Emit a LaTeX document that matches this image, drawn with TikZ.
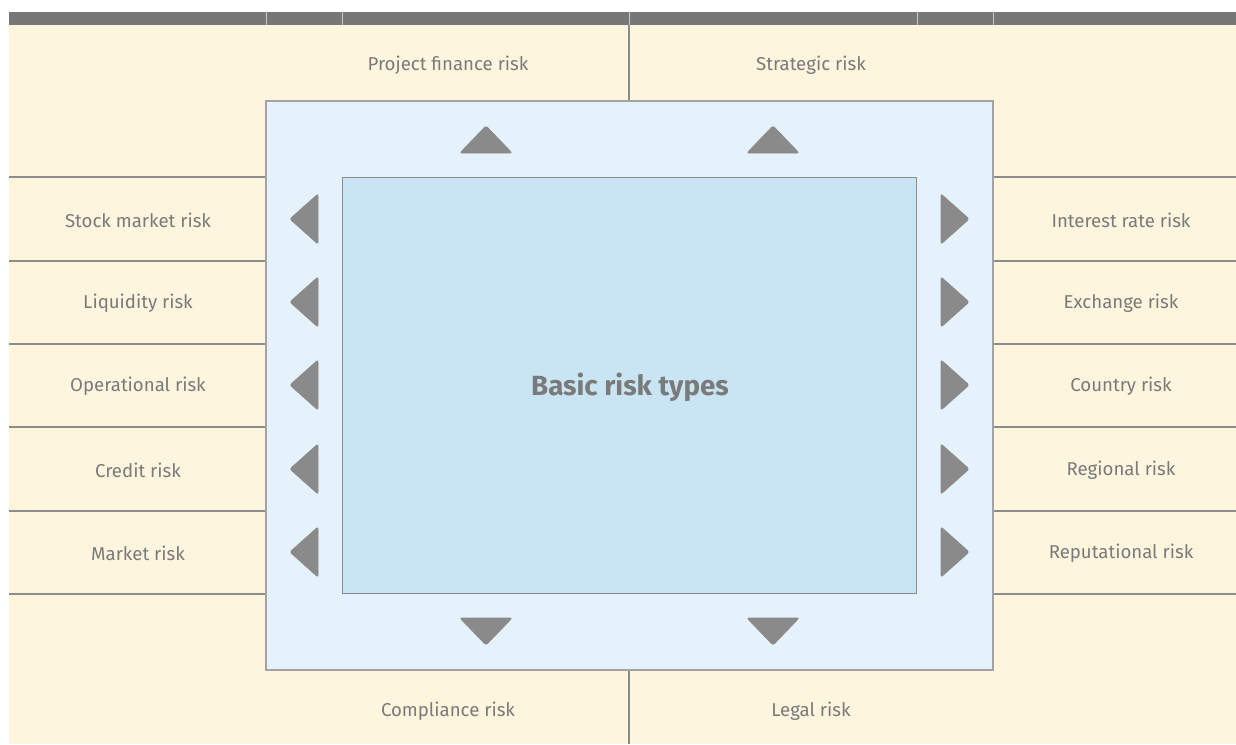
\documentclass[tikz,border=0pt]{standalone}
\usepackage{fontspec}
\setmainfont{Fira Sans}
\usetikzlibrary{shapes,arrows}
\definecolor{cream}{HTML}{FEF5DF}
\definecolor{paleblue}{HTML}{E5F2FB}
\definecolor{midblue}{HTML}{C9E4F2}
\definecolor{textgray}{HTML}{7A7A7A}
\definecolor{bargray}{HTML}{777777}
\definecolor{arrowgray}{HTML}{8A8A8A}
\definecolor{linegray}{HTML}{8C8C8C}
\tikzstyle{label} = [text=textgray, font=\fontsize{10.6}{12}\selectfont, inner sep=0pt]
\tikzstyle{title} = [text=textgray, font=\fontsize{15.8}{18}\selectfont\bfseries, inner sep=0pt]
\tikzstyle{sep} = [draw=linegray, line width=0.6pt]
\tikzstyle{tri} = [fill=arrowgray, draw=arrowgray, line width=0.5pt, rounded corners=1.2pt]

\begin{document}
\begin{tikzpicture}[x=0.02cm, y=-0.02cm]
\useasboundingbox (0,0) rectangle (1236,744);

% background and header bar
\fill[cream] (9,25) rectangle (1236,744);
\fill[bargray] (9,12) rectangle (1236,25);
\foreach \sx in {266,342,629,917,993}
  \draw[white!60!bargray, line width=0.5pt] (\sx,12) -- (\sx,25);

% row separators
\foreach \sy in {177,261,344,427,511,594}{
  \draw[sep] (9,\sy) -- (266,\sy);
  \draw[sep] (993,\sy) -- (1236,\sy);
}
\draw[sep] (629,25) -- (629,101);
\draw[sep] (629,670) -- (629,744);

% the two boxes
\node [draw=linegray!80, fill=paleblue, line width=0.8pt, rectangle, minimum width=14.54cm, minimum height=11.38cm, inner sep=0pt] (outer) at (629.5,385.5) {};
\node [draw=linegray, fill=midblue, line width=0.6pt, rectangle, minimum width=11.5cm, minimum height=8.34cm, inner sep=0pt] (inner) at (629.5,385.5) {};
\node [title] (basic) at (630,387) {Basic risk types};

% arrow heads
\foreach \ax in {486,773}{
  \draw[tri] (\ax-26,153) -- (\ax,126) -- (\ax+26,153) -- cycle;
  \draw[tri] (\ax-26,618) -- (\ax,645) -- (\ax+26,618) -- cycle;
}
\foreach \ay in {219,302,385,469,552}{
  \draw[tri] (318,\ay-25) -- (290,\ay) -- (318,\ay+25) -- cycle;
  \draw[tri] (941,\ay-25) -- (969,\ay) -- (941,\ay+25) -- cycle;
}

% risk labels
\node [label] (project) at (448,65) {Project finance risk};
\node [label] (strategic) at (811,65) {Strategic risk};
\node [label] (compliance) at (448,711) {Compliance risk};
\node [label] (legal) at (811,711) {Legal risk};

\node [label] (stock) at (138,220) {Stock market risk};
\node [label] (liquidity) at (138,303) {Liquidity risk};
\node [label] (operational) at (138,386) {Operational risk};
\node [label] (credit) at (138,470) {Credit risk};
\node [label] (market) at (138,553) {Market risk};

\node [label] (interest) at (1121,220) {Interest rate risk};
\node [label] (exchange) at (1121,303) {Exchange risk};
\node [label] (country) at (1121,386) {Country risk};
\node [label] (regional) at (1121,470) {Regional risk};
\node [label] (reputational) at (1121,553) {Reputational risk};

\end{tikzpicture}
\end{document}
